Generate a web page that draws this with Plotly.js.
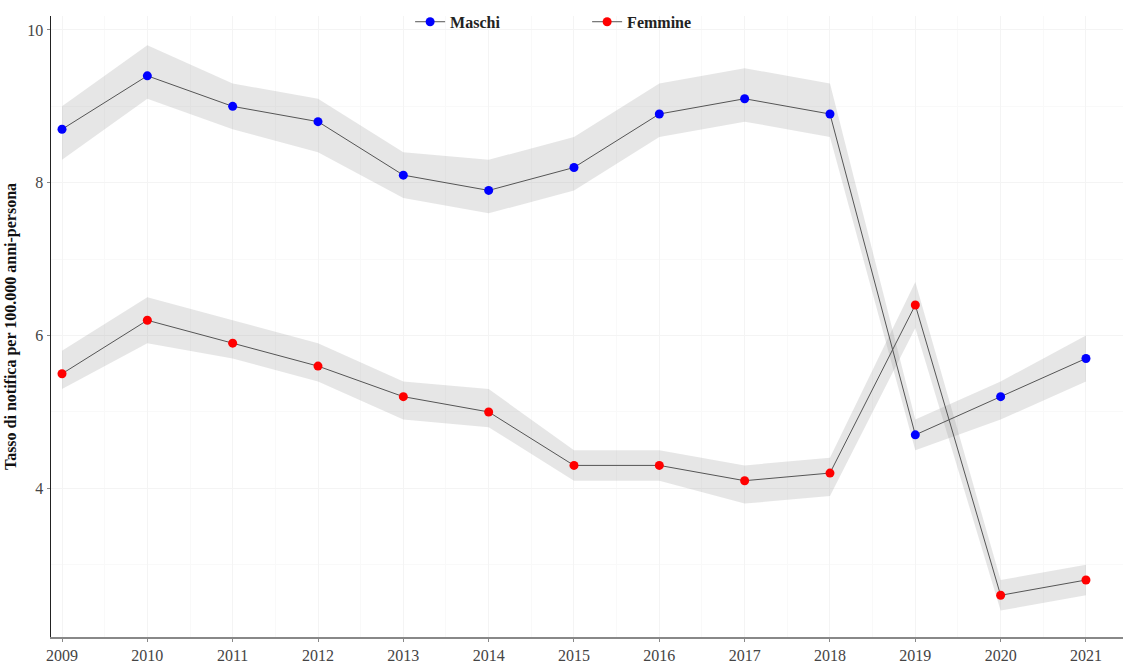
<!DOCTYPE html>
<html>
<head>
<meta charset="utf-8">
<script src="https://cdn.plot.ly/plotly-3.0.1.min.js"></script>
<style>html,body{margin:0;padding:0;background:#fff;}#chart{width:1123px;height:664px;}</style>
</head>
<body>
<div id="chart"></div>
<script>
const years = [2009,2010,2011,2012,2013,2014,2015,2016,2017,2018,2019,2020,2021];
const maschi = [8.7,9.4,9.0,8.8,8.1,7.9,8.2,8.9,9.1,8.9,4.7,5.2,5.7];
const maschiUpper = [9.0,9.8,9.3,9.1,8.4,8.3,8.6,9.3,9.5,9.3,4.9,5.4,6.0];
const maschiLower = [8.3,9.1,8.7,8.4,7.8,7.6,7.9,8.6,8.8,8.6,4.5,4.9,5.4];
const femmine = [5.5,6.2,5.9,5.6,5.2,5.0,4.3,4.3,4.1,4.2,6.4,2.6,2.8];
const femmineUpper = [5.8,6.5,6.2,5.9,5.4,5.3,4.5,4.5,4.3,4.4,6.7,2.8,3.0];
const femmineLower = [5.3,5.9,5.7,5.4,4.9,4.8,4.1,4.1,3.8,3.9,6.1,2.4,2.6];
const yTicks = [4,6,8,10];

const bandFill = 'rgba(150,150,150,0.24)';
function band(up, lo){
  return [
    {x: years, y: up, mode:'lines', line:{width:0, color:'rgba(0,0,0,0)'}, showlegend:false, hoverinfo:'skip'},
    {x: years, y: lo, mode:'lines', line:{width:0, color:'rgba(0,0,0,0)'}, fill:'tonexty', fillcolor: bandFill, showlegend:false, hoverinfo:'skip'}
  ];
}
const data = [
  ...band(maschiUpper, maschiLower),
  ...band(femmineUpper, femmineLower),
  {x: years, y: maschi, name:'<b>Maschi</b>', mode:'lines+markers', line:{color:'#555555', width:1}, marker:{color:'#0000ff', size:9}},
  {x: years, y: femmine, name:'<b>Femmine</b>', mode:'lines+markers', line:{color:'#555555', width:1}, marker:{color:'#ff0000', size:9}}
];
const font = 'Liberation Serif, Times New Roman, serif';
const layout = {
  width:1123, height:664,
  margin:{l:51, r:0, t:16, b:27},
  paper_bgcolor:'#ffffff', plot_bgcolor:'#ffffff',
  font:{family:font, color:'#444444', size:16},
  showlegend:true,
  legend:{orientation:'h', traceorder:'normal', x:0.335, xanchor:'left', y:1.018, yanchor:'top',
          font:{family:font, size:16, color:'#222222'}, entrywidth:132, entrywidthmode:'pixels',
          bgcolor:'rgba(255,255,255,0)'},
  xaxis:{range:[2008.871, 2021.434], tickvals: years, ticktext: years.map(String),
         showgrid:true, gridcolor:'#f4f4f4', gridwidth:1,
         minor:{dtick:0.5, tick0:2008.5, showgrid:true, gridcolor:'#f9f9f9', gridwidth:1},
         showline:true, linecolor:'#888888', linewidth:1.5, ticks:'outside', ticklen:3, tickcolor:'#888888',
         zeroline:false, tickfont:{size:16, color:'#444444'}},
  yaxis:{range:[2.054, 10.183], tickvals: yTicks, ticktext: yTicks.map(String),
         showgrid:true, gridcolor:'#f4f4f4', gridwidth:1,
         minor:{dtick:1, tick0:3, showgrid:true, gridcolor:'#f9f9f9', gridwidth:1},
         showline:true, linecolor:'#222222', linewidth:1.5, ticks:'outside', ticklen:3, tickcolor:'#888888',
         zeroline:false, tickfont:{size:16, color:'#444444'},
         title:{text:'<b>Tasso di notifica per 100.000 anni-persona</b>', font:{family:font, size:16, color:'#111111'}, standoff:6}}
};
Plotly.newPlot('chart', data, layout, {displayModeBar:false, staticPlot:true});
</script>
</body>
</html>
